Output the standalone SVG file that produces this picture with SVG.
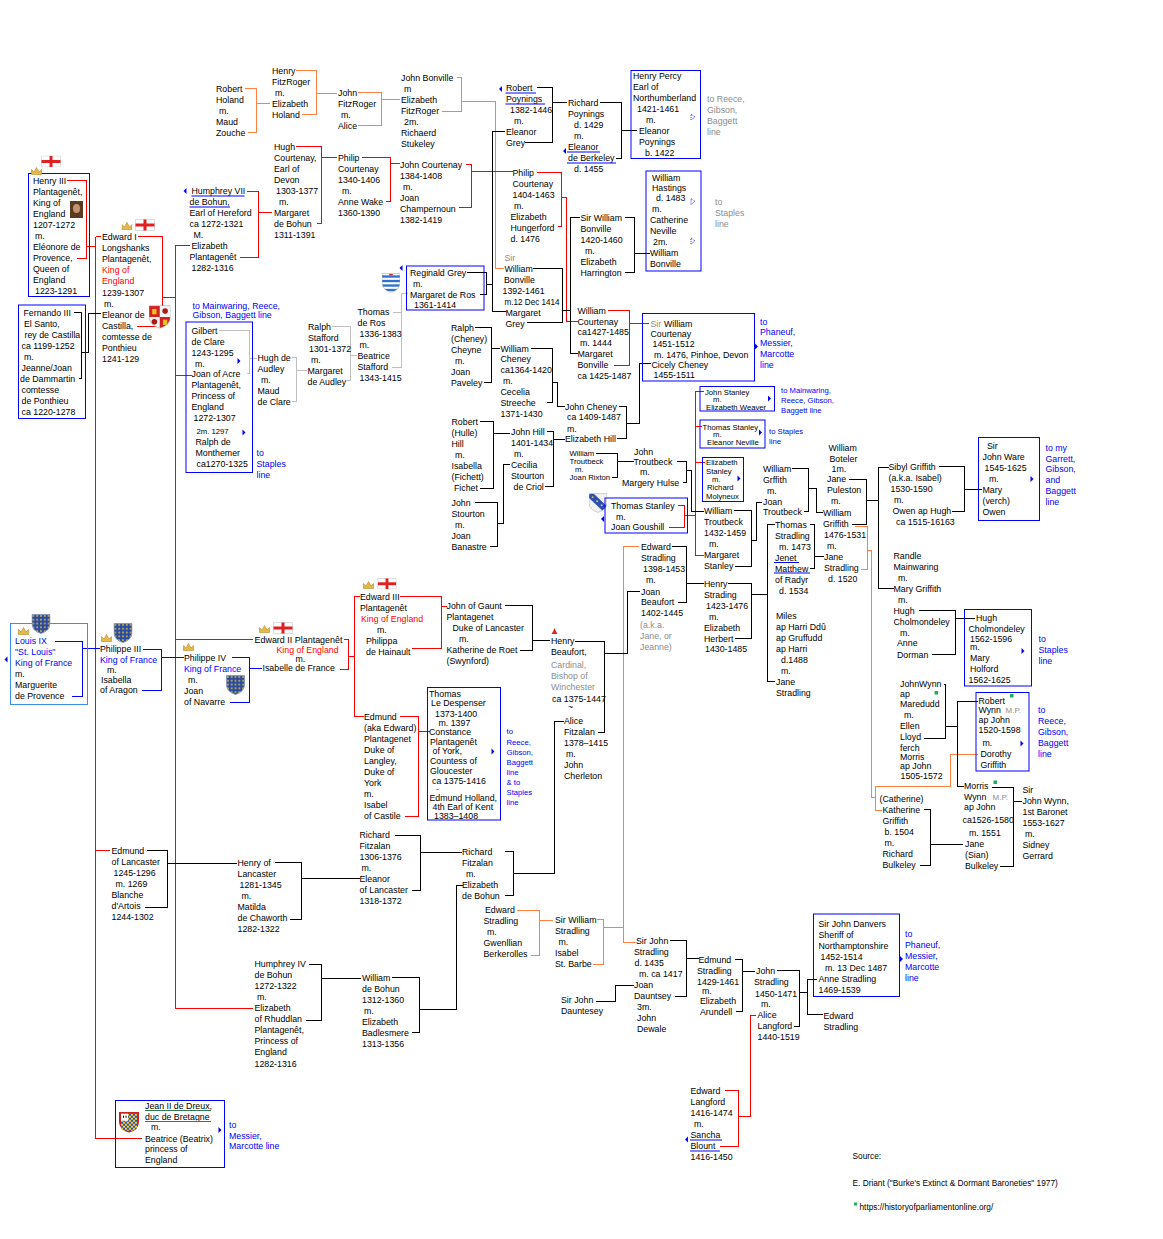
<svg xmlns="http://www.w3.org/2000/svg" width="1163" height="1239" viewBox="0 0 1163 1239">
<style>
text{font-family:"Liberation Sans",Arial,sans-serif;font-size:8.8px;fill:#000}
.red{fill:#ff0000}
.blu{fill:#0000ff}
.gry{fill:#8c8c8c}
.sm{font-size:7.7px}
.tl{font-size:5px}
.mp{font-size:8px;fill:#8c8c8c}
.ft{font-size:8.3px}
.lr{fill:none;stroke:#ff0000}
.lb{fill:none;stroke:#000}
.lo{fill:none;stroke:#ff8040}
.lu{fill:none;stroke:#0000ff}
.lg{fill:none;stroke:#c0c0c0}
.box{fill:none;stroke:#0000ff}
.lbox{fill:none;stroke:#3b8eea}
.ul{stroke:#0000ff;fill:none}
.ulg{stroke:#2e7d4f;fill:none}
.arr{fill:#0000ff}
.dm{fill:none;stroke:#0000ff;stroke-width:0.8;stroke-dasharray:1 1}
.gsq{fill:#20b050}
</style>
<defs>
<clipPath id="shc"><path d="M0,0H20V10Q20,18 10,21Q0,18 0,10Z"/></clipPath>
<pattern id="fdots" width="4" height="4" patternUnits="userSpaceOnUse"><circle cx="2" cy="2" r="0.9" fill="#e8c840"/></pattern>
<pattern id="chk" width="4" height="4" patternUnits="userSpaceOnUse"><rect width="4" height="4" fill="#f0d030"/><rect width="2" height="2" fill="#3050b0"/><rect x="2" y="2" width="2" height="2" fill="#3050b0"/></pattern>
<symbol id="crown" viewBox="0 0 11 8"><path d="M0.5,7.5V2.5L3,5L5.5,0.5L8,5L10.5,2.5V7.5Z" fill="#e6b84a" stroke="#b8892a" stroke-width="0.6"/></symbol>
<symbol id="flag" viewBox="0 0 20 12"><rect x="0.5" y="0.5" width="19" height="11" fill="#fff" stroke="#dddddd"/><rect x="8.5" y="0.5" width="3" height="11" fill="#e02020"/><rect x="0.5" y="4.5" width="19" height="3" fill="#e02020"/></symbol>
<symbol id="fr" viewBox="0 0 20 21"><path d="M0.5,0.5H19.5V10Q19.5,17.5 10,20.5Q0.5,17.5 0.5,10Z" fill="#2a4aa0" stroke="#8899bb"/><path d="M0.5,0.5H19.5V10Q19.5,17.5 10,20.5Q0.5,17.5 0.5,10Z" fill="url(#fdots)"/></symbol>
<symbol id="cl" viewBox="0 0 20 21"><g clip-path="url(#shc)"><rect width="20" height="21" fill="#f4f4f4"/><rect width="10" height="10.5" fill="#d42020"/><rect x="10" y="10.5" width="10" height="10.5" fill="#d42020"/><rect x="3" y="3" width="4" height="5" fill="#f0c020"/><rect x="13" y="13" width="4" height="5" fill="#f0c020"/><circle cx="15" cy="5" r="2.6" fill="#b01818"/><circle cx="5" cy="15" r="2.6" fill="#b01818"/></g><path d="M0,0H20V10Q20,18 10,21Q0,18 0,10Z" fill="none" stroke="#aaaaaa" stroke-width="0.6"/></symbol>
<symbol id="gr" viewBox="0 0 20 21"><g clip-path="url(#shc)"><rect width="20" height="21" fill="#ffffff"/><rect y="2" width="20" height="2.6" fill="#3070d0"/><rect y="7" width="20" height="2.6" fill="#3070d0"/><rect y="12" width="20" height="2.6" fill="#3070d0"/><rect y="17" width="20" height="2.6" fill="#3070d0"/><rect x="8" y="0" width="4" height="2" fill="#d02020"/></g><path d="M0,0H20V10Q20,18 10,21Q0,18 0,10Z" fill="none" stroke="#aaaaaa" stroke-width="0.6"/></symbol>
<symbol id="st" viewBox="0 0 20 21"><g clip-path="url(#shc)"><rect width="20" height="21" fill="#f2f2f2"/><path d="M-2,3L3,-2L22,16L17,21Z" fill="#3050b0"/><circle cx="4" cy="4" r="1" fill="#f0d030"/><circle cx="9" cy="8.5" r="1" fill="#f0d030"/><circle cx="14" cy="13" r="1" fill="#f0d030"/></g><path d="M0,0H20V10Q20,18 10,21Q0,18 0,10Z" fill="none" stroke="#aaaaaa" stroke-width="0.6"/></symbol>
<symbol id="dr" viewBox="0 0 20 21"><g clip-path="url(#shc)"><rect width="20" height="21" fill="#cc2020"/><rect x="2" y="2" width="16" height="17" fill="url(#chk)"/><rect x="2" y="2" width="7" height="7" fill="#ffffff"/><rect x="4" y="4" width="1" height="2" fill="#000"/><rect x="6.5" y="4" width="1" height="2" fill="#000"/></g></symbol>
<path id="ra" d="M0,-3L3,0L0,3Z"/>
<path id="la" d="M3,-3L0,0L3,3Z"/>
<path id="dmk" d="M0,-3L4,0L0,3Z"/>
</defs>
<rect width="1163" height="1239" fill="#ffffff"/>

<g id="connectors" shape-rendering="crispEdges">
<path class="lo" d="M245,88.5H256.5V132.5H248M256.5,103.5H270"/>
<path class="lo" d="M295.5,70.5H316V114.5H301.5M316,93.5H336.5"/>
<path class="lo" d="M358,92.5H381V125.5H358M381,99.5H400"/>
<path class="lo" d="M457,77.5H461.5V111.5H441.5M461.5,101.5H495V268.5H504"/>
<path class="lo" d="M517,910H539.5V955H531M539.5,920.5H553"/>
<path class="lo" d="M597,919.5H603.5V964H593M603.5,927.5H623.5"/>
<path class="lo" d="M638.5,546.5H623.5V942.5H635.5"/>
<path class="lo" d="M855,526H867.5V569.5H861M867.5,550H871.5V797.5H875.5M881.5,810H875.5V786.5H950V754.5H978"/>
<path class="lr" d="M66.5,180.5H86.5V258.5H77M86.5,246.5H95.5"/>
<path class="lr" d="M95.5,236.5V1138.5H141.5M95.5,236.5H101M95.5,850H110"/>
<path class="lr" d="M137.5,236.5H162.5V326H136.5M162.5,297.5H175M175,245.5V1008.5H253M175,245.5H190M175,375.5H191.5M175,639.5H253"/>
<path class="lr" d="M246.5,191H258.5V257H240M258.5,212.5H271.5"/>
<path class="lr" d="M295.5,146H321V223H316.5M321,157.5H336.5"/>
<path class="lr" d="M361.5,157H390V201H385.5M390,163.5H400"/>
<path class="lr" d="M466,164.5H471.5V207.5H459M471.5,171H512.5"/>
<path class="lr" d="M537,172H561.5V226.5H558M561.5,197.5H566.5V321H577.5"/>
<path class="lr" d="M607.5,310H629.5V365H613.5M629.5,323.5H648.5"/>
<path class="lr" d="M344,639.5H348.5V669.5H339.5M348.5,656.5H354M354,596V716M354,596H360M354,716H363.5"/>
<path class="lr" d="M399.5,596H441.5V648.5H411.5M441.5,606H446.5"/>
<path class="lr" d="M399.5,716H418.5V816H405M418.5,731.5H430"/>
<path class="lr" d="M677.5,505H684V527.5H669M684,515H695M695,391V555M695,391H704M695,426H702M695,462.5H705M695,555H704"/>
<path class="lr" d="M724.5,1090.5H738.5V1146H720M738.5,1116H750V1015H755.5"/>
<path class="lu" d="M55,641H82.5V696H71.5M82.5,648.5H99.5"/>
<path class="lu" d="M142.5,649H161.5V690H141.5M161.5,657.5H183.5"/>
<path class="lu" d="M231.5,657.5H249.5V702.5H230M249.5,668.5H261.5"/>
<path class="lg" d="M219,330H249.5V373.5H246.5M249.5,358.5H257"/>
<path class="lg" d="M292,357.5H296.5V401H292M296.5,370H306.5"/>
<path class="lg" d="M331.5,326.5H350V380.5H346.5M350,355.5H356.5"/>
<path class="lg" d="M393,312H401V367H392M401,293.5V312M401,293.5H408"/>
<path class="lb" d="M73.5,312.5H81.5V378H79M81.5,352.5H88.5V313.5H101"/>
<path class="lb" d="M466.5,272H486V294H480M486,284.5H492.5M505,131H492.5V311.5H505.5"/>
<path class="lb" d="M536.5,87.5H552.5V142H525M552.5,102.5H566.5"/>
<path class="lb" d="M600,102.5H621.5V158.5H615.5M621.5,130.5H636.5"/>
<path class="lb" d="M624.5,217.5H634.5V272.5H625M634.5,253.5H650"/>
<path class="lb" d="M532.5,268.5H562.5V322.5H526.5M562.5,310H570M580,217.5H570V353.5H578"/>
<path class="lb" d="M475,327.5H491.5V382.5H484M491.5,348.5H500"/>
<path class="lb" d="M530.5,348H552.5V402.5H546.5M552.5,382.5H557.5V406H564.5"/>
<path class="lb" d="M618.5,406H626.5V438.5H616.5M626.5,423.5H639.5V363.5H650.5"/>
<path class="lb" d="M480,421.5H493.5V488.5H479.5M493.5,433.5H510"/>
<path class="lb" d="M546.5,431.5H553.5V486.5H544.5M553.5,439H565"/>
<path class="lb" d="M474.5,502.5H497.5V546.5H490M497.5,523.5H503.5V464H510"/>
<path class="lb" d="M595.5,453.5H617.5V477.5H611.5M617.5,461H633.5"/>
<path class="lb" d="M676.5,461.5H686V482.5H682.5M686,470H691V511H703.5"/>
<path class="lb" d="M733.5,510.5H751.5V566H735M751.5,540H756.5V502.5H761.5"/>
<path class="lb" d="M791.5,468H808.5V511.5H804M808.5,488.5H816V512.5H822.5"/>
<path class="lb" d="M848.5,479H866.5V524H851.5M866.5,500.5H878.5M888.5,467.5H878.5V588.5H893.5"/>
<path class="lb" d="M939,466.5H964V511H951.5M964,489H981.5"/>
<path class="lb" d="M918.5,610.5H955.5V654.5H931.5M955.5,618.5H975"/>
<path class="lb" d="M809.5,524.5H814.5V568.5H810M814.5,556.5H823.5"/>
<path class="lb" d="M727.5,583.5H751.5V638.5H734.5M751.5,594.5H767.5M775,524.5H767.5V681.5H775"/>
<path class="lb" d="M671.5,546.5H686.5V602.5H677.5M686.5,583.5H703.5"/>
<path class="lb" d="M575,641H604.5V732.5H597.5M604.5,653.5H627.5V591.5H640"/>
<path class="lb" d="M505,605.5H532.5V650H520M532.5,640.5H550"/>
<path class="lb" d="M505,851.5H513.5V895.5H505M513.5,873H554.5V721H564"/>
<path class="lb" d="M146.5,850.5H167.5V907.5H145M167.5,863.5H236.5"/>
<path class="lb" d="M275,862.5H301V919H290M301,878.5H359.5"/>
<path class="lb" d="M394.5,835H420V890.5H411.5M420,852.5H461.5"/>
<path class="lb" d="M308.5,964H321V1020H306M321,978.5H361"/>
<path class="lb" d="M391.5,977.5H419.5V1032.5H411.5M419.5,1009.5H456.5V885H462.5"/>
<path class="lb" d="M670,940.5H686.5V996.5H675M686.5,958.5H698.5"/>
<path class="lb" d="M596,1001H615.5V985.5H633.5"/>
<path class="lb" d="M735,959.5H742.5V1011.5H735.5M742.5,971.5H755"/>
<path class="lb" d="M776.5,970.5H799.5V1026H793.5M799.5,992.5H807.5M816.5,979.5H807.5V1014.5H822.5"/>
<path class="lb" d="M943.5,684H945.5V738.5H923.5M945.5,726.5H957.5M977.5,701.5H957.5V786.5H963.5"/>
<path class="lb" d="M991.5,787.5H1013.5V866.5H1000M1013.5,801H1021.5"/>
<path class="lb" d="M923.5,809.5H930V865H920M930,844H962.5"/>
</g>

<g id="n-robert-holand"><text><tspan x="216" y="92">Robert</tspan><tspan x="216" y="103">Holand</tspan><tspan x="219" y="114">m.</tspan><tspan x="216" y="125">Maud</tspan><tspan x="216" y="136">Zouche</tspan></text></g>
<g id="n-henry-fitzroger"><text><tspan x="272" y="74">Henry</tspan><tspan x="272" y="85">FitzRoger</tspan><tspan x="275" y="96">m.</tspan><tspan x="272" y="107">Elizabeth</tspan><tspan x="272" y="118">Holand</tspan></text></g>
<g id="n-john-fitzroger"><text><tspan x="338" y="96">John</tspan><tspan x="338" y="107">FitzRoger</tspan><tspan x="341" y="118">m.</tspan><tspan x="338" y="129">Alice</tspan></text></g>
<g id="n-john-bonville"><text><tspan x="401" y="81">John Bonville</tspan><tspan x="404" y="92">m</tspan><tspan x="401" y="103">Elizabeth</tspan><tspan x="401" y="114">FitzRoger</tspan><tspan x="404" y="125">2m.</tspan><tspan x="401" y="136">Richaerd</tspan><tspan x="401" y="147">Stukeley</tspan></text></g>
<g id="n-robert-poynings"><use href="#la" x="499" y="89" class="arr"/><text><tspan x="506" y="91">Robert</tspan><tspan x="506" y="102">Poynings</tspan><tspan x="510" y="113">1382-1446</tspan><tspan x="514" y="124">m.</tspan><tspan x="506" y="135">Eleanor</tspan><tspan x="506" y="146">Grey</tspan></text><path class="ul" d="M505.5,93H536M505.5,104H545"/></g>
<g id="n-richard-poynings"><use href="#la" x="563" y="151" class="arr"/><text><tspan x="568" y="106">Richard</tspan><tspan x="568" y="117">Poynings</tspan><tspan x="574" y="128">d. 1429</tspan><tspan x="574" y="139">m.</tspan><tspan x="568" y="150">Eleanor</tspan><tspan x="568" y="161">de Berkeley</tspan><tspan x="574" y="172">d. 1455</tspan></text><path class="ul" d="M567,152H600M567,163H616"/></g>
<g id="n-henry-percy"><rect class="box" x="631" y="70.5" width="69.5" height="88"/><text><tspan x="633" y="79">Henry Percy</tspan><tspan x="633" y="90">Earl of</tspan><tspan x="633" y="101">Northumberland</tspan><tspan x="637" y="112">1421-1461</tspan><tspan x="646" y="123">m.</tspan><tspan x="639" y="134">Eleanor</tspan><tspan x="639" y="145">Poynings</tspan><tspan x="645" y="156">b. 1422</tspan></text><use href="#dmk" x="691" y="117" class="dm"/><text class="gry"><tspan x="707" y="102">to Reece,</tspan><tspan x="707" y="113">Gibson,</tspan><tspan x="707" y="124">Baggett</tspan><tspan x="707" y="135">line</tspan></text></g>
<g id="n-hastings"><rect class="box" x="646" y="171" width="55" height="100"/><text><tspan x="652" y="181">William</tspan><tspan x="652" y="191">Hastings</tspan><tspan x="656" y="201">d. 1483</tspan><tspan x="652" y="212">m.</tspan><tspan x="650" y="223">Catherine</tspan><tspan x="650" y="234">Neville</tspan><tspan x="653" y="245">2m.</tspan><tspan x="650" y="256">William</tspan><tspan x="650" y="266.5">Bonville</tspan></text><use href="#dmk" x="691" y="201.5" class="dm"/><use href="#dmk" x="691" y="241" class="dm"/><text class="gry"><tspan x="715" y="205">to</tspan><tspan x="715" y="216">Staples</tspan><tspan x="715" y="227">line</tspan></text></g>
<g id="n-hugh-courtenay"><text><tspan x="274" y="149.5">Hugh</tspan><tspan x="274" y="160.5">Courtenay,</tspan><tspan x="274" y="171.5">Earl of</tspan><tspan x="274" y="182.5">Devon</tspan><tspan x="276" y="193.5">1303-1377</tspan><tspan x="279" y="204.5">m.</tspan><tspan x="274" y="215.5">Margaret</tspan><tspan x="274" y="226.5">de Bohun</tspan><tspan x="274" y="237.5">1311-1391</tspan></text></g>
<g id="n-philip-courtenay-1340"><text><tspan x="338" y="160.5">Philip</tspan><tspan x="338" y="171.5">Courtenay</tspan><tspan x="338" y="182.5">1340-1406</tspan><tspan x="342" y="193.5">m.</tspan><tspan x="338" y="204.5">Anne Wake</tspan><tspan x="338" y="215.5">1360-1390</tspan></text></g>
<g id="n-john-courtenay"><text><tspan x="400" y="167.5">John Courtenay</tspan><tspan x="400" y="178.5">1384-1408</tspan><tspan x="403" y="189.5">m.</tspan><tspan x="400" y="200.5">Joan</tspan><tspan x="400" y="211.5">Champernoun</tspan><tspan x="400" y="222.5">1382-1419</tspan></text></g>
<g id="n-philip-courtenay-1404"><text><tspan x="512.5" y="175.5">Philip</tspan><tspan x="512.5" y="186.5">Courtenay</tspan><tspan x="512.5" y="197.5">1404-1463</tspan><tspan x="514" y="208.5">m.</tspan><tspan x="510.5" y="219.5">Elizabeth</tspan><tspan x="510.5" y="230.5">Hungerford</tspan><tspan x="510.5" y="241.5">d. 1476</tspan></text></g>
<g id="n-humphrey-vii"><use href="#la" x="183.5" y="191" class="arr"/><text><tspan x="191.5" y="194">Humphrey VII</tspan><tspan x="189.5" y="205">de Bohun,</tspan><tspan x="189.5" y="216">Earl of Hereford</tspan><tspan x="189.5" y="227">ca 1272-1321</tspan><tspan x="193.5" y="238">M.</tspan><tspan x="191.5" y="249">Elizabeth</tspan><tspan x="189.5" y="260">Plantagenêt</tspan><tspan x="191.5" y="271">1282-1316</tspan></text><path class="ul" d="M191.5,196H244.5M189.5,207H230"/></g>
<g id="n-henry-iii"><rect class="box" x="28.5" y="173.5" width="61" height="123"/><use href="#crown" x="31" y="167" width="11" height="8"/><use href="#flag" x="41" y="155.5" width="20" height="12"/><rect x="70" y="201" width="13" height="17" fill="#5a3a20"/><ellipse cx="76.5" cy="208.5" rx="3.5" ry="4.5" fill="#c29372"/><text><tspan x="33" y="184">Henry III</tspan><tspan x="33" y="195">Plantagenêt,</tspan><tspan x="33" y="206">King of</tspan><tspan x="33" y="217">England</tspan><tspan x="33" y="228">1207-1272</tspan><tspan x="35" y="239">m.</tspan><tspan x="33" y="250">Eléonore de</tspan><tspan x="33" y="261">Provence,</tspan><tspan x="33" y="272">Queen of</tspan><tspan x="33" y="283">England</tspan><tspan x="35" y="294">1223-1291</tspan></text></g>
<g id="n-edward-i"><use href="#crown" x="121.5" y="222" width="11" height="8"/><use href="#flag" x="135" y="219" width="20" height="12"/><use href="#cl" x="149" y="305" width="21.5" height="24"/><text><tspan x="102" y="240">Edward I</tspan><tspan x="102" y="251">Longshanks</tspan><tspan x="102" y="262">Plantagenêt,</tspan><tspan x="102" y="273" class="red">King of</tspan><tspan x="102" y="284" class="red">England</tspan><tspan x="102" y="295.5">1239-1307</tspan><tspan x="104" y="306.5">m.</tspan><tspan x="102" y="318">Eleanor de</tspan><tspan x="102" y="329">Castilla,</tspan><tspan x="102" y="340">comtesse de</tspan><tspan x="102" y="351">Ponthieu</tspan><tspan x="102" y="362">1241-129</tspan></text></g>
<g id="n-fernando-iii"><rect class="box" x="18.5" y="305" width="67" height="113.5"/><text><tspan x="23.5" y="316">Fernando III</tspan><tspan x="24" y="327">El Santo,</tspan><tspan x="24.5" y="338">rey de Castilla</tspan><tspan x="21.5" y="349">ca 1199-1252</tspan><tspan x="24" y="360">m.</tspan><tspan x="21.5" y="371">Jeanne/Joan</tspan><tspan x="20" y="382">de Dammartin</tspan><tspan x="21.5" y="393">comtesse</tspan><tspan x="21.5" y="404">de Ponthieu</tspan><tspan x="21.5" y="415">ca 1220-1278</tspan></text></g>
<g id="n-gilbert-de-clare"><text class="blu"><tspan x="192.5" y="309">to Mainwaring, Reece,</tspan><tspan x="192.5" y="318">Gibson, Baggett line</tspan></text><rect class="box" x="186" y="322" width="66.5" height="150.5"/><text><tspan x="191.5" y="333.5">Gilbert</tspan><tspan x="191.5" y="344.5">de Clare</tspan><tspan x="191.5" y="355.5">1243-1295</tspan><tspan x="195" y="366.5">m.</tspan><tspan x="191.5" y="377">Joan of Acre</tspan><tspan x="191.5" y="388">Plantagenêt,</tspan><tspan x="191.5" y="399">Princess of</tspan><tspan x="191.5" y="410">England</tspan><tspan x="193.5" y="421">1272-1307</tspan><tspan x="196.5" y="433.5" class="sm">2m. 1297</tspan><tspan x="195.5" y="445">Ralph de</tspan><tspan x="195.5" y="456">Monthemer</tspan><tspan x="196.5" y="467">ca1270-1325</tspan></text><use href="#ra" x="237.5" y="361" class="arr"/><use href="#ra" x="242.5" y="432.5" class="arr"/><text class="blu"><tspan x="256.5" y="456">to</tspan><tspan x="256.5" y="467">Staples</tspan><tspan x="256.5" y="478">line</tspan></text></g>
<g id="n-hugh-de-audley"><text><tspan x="257.5" y="361">Hugh de</tspan><tspan x="257.5" y="372">Audley</tspan><tspan x="261" y="383">m.</tspan><tspan x="257.5" y="394">Maud</tspan><tspan x="257.5" y="405">de Clare</tspan></text></g>
<g id="n-ralph-stafford"><text><tspan x="308" y="330">Ralph</tspan><tspan x="308" y="341">Stafford</tspan><tspan x="309" y="352">1301-1372</tspan><tspan x="311" y="363">m.</tspan><tspan x="307.5" y="374">Margaret</tspan><tspan x="307.5" y="385">de Audley</tspan></text></g>
<g id="n-thomas-de-ros"><text><tspan x="357.5" y="315">Thomas</tspan><tspan x="357.5" y="326">de Ros</tspan><tspan x="359.5" y="337">1336-1383</tspan><tspan x="359.5" y="348">m.</tspan><tspan x="357.5" y="359">Beatrice</tspan><tspan x="357.5" y="370">Stafford</tspan><tspan x="359.5" y="380.5">1343-1415</tspan></text></g>
<g id="n-reginald-grey"><use href="#gr" x="382" y="272" width="18" height="22"/><use href="#la" x="399.5" y="268" class="arr"/><rect class="box" x="406.5" y="266" width="77.5" height="44"/><text><tspan x="410" y="275.5">Reginald Grey</tspan><tspan x="413" y="286.5">m.</tspan><tspan x="410" y="297.5">Margaret de Ros</tspan><tspan x="414" y="308">1361-1414</tspan></text></g>
<g id="n-william-bonville-1392"><text><tspan x="504.5" y="261" class="gry">Sir</tspan><tspan x="504.5" y="271.5">William</tspan><tspan x="504" y="282.5">Bonville</tspan><tspan x="502.5" y="293.5">1392-1461</tspan><tspan x="504.5" y="304.5" textLength="55" lengthAdjust="spacingAndGlyphs">m.12 Dec 1414</tspan><tspan x="505.5" y="315.5">Margaret</tspan><tspan x="505.5" y="326.5">Grey</tspan></text></g>
<g id="n-william-bonville-1420"><text><tspan x="580.5" y="221">Sir William</tspan><tspan x="580.5" y="232">Bonville</tspan><tspan x="580.5" y="243">1420-1460</tspan><tspan x="585" y="254">m.</tspan><tspan x="580.5" y="265">Elizabeth</tspan><tspan x="580.5" y="276">Harrington</tspan></text></g>
<g id="n-william-courtenay-1427"><text><tspan x="577.5" y="313.5">William</tspan><tspan x="577.5" y="324.5">Courtenay</tspan><tspan x="577.5" y="335">ca1427-1485</tspan><tspan x="580" y="346">m. 1444</tspan><tspan x="577.5" y="357">Margaret</tspan><tspan x="577.5" y="368">Bonville</tspan><tspan x="577.5" y="378.5">ca 1425-1487</tspan></text></g>
<g id="n-william-courtenay-1451"><rect class="box" x="642.5" y="313.5" width="112" height="67.5"/><text><tspan x="650.5" y="326.5" class="gry">Sir</tspan><tspan x="664" y="326.5">William</tspan><tspan x="650.5" y="336.5">Courtenay</tspan><tspan x="652.5" y="347">1451-1512</tspan><tspan x="654" y="357.5">m. 1476, Pinhoe, Devon</tspan><tspan x="651.5" y="367.5">Cicely Cheney</tspan><tspan x="653.5" y="378">1455-1511</tspan></text><use href="#ra" x="755" y="346.5" class="arr"/><text class="blu"><tspan x="760" y="324.5">to</tspan><tspan x="760" y="335">Phaneuf,</tspan><tspan x="760" y="345.5">Messier,</tspan><tspan x="760" y="356.5">Marcotte</tspan><tspan x="760" y="367.5">line</tspan></text></g>
<g id="n-ralph-cheyne"><text><tspan x="451" y="331">Ralph</tspan><tspan x="451" y="342">(Cheney)</tspan><tspan x="451" y="353">Cheyne</tspan><tspan x="455" y="364">m.</tspan><tspan x="451" y="375">Joan</tspan><tspan x="451" y="386">Paveley</tspan></text></g>
<g id="n-william-cheney"><text><tspan x="500.5" y="351.5">William</tspan><tspan x="500.5" y="362">Cheney</tspan><tspan x="500.5" y="373">ca1364-1420</tspan><tspan x="503" y="384">m.</tspan><tspan x="500.5" y="395">Cecelia</tspan><tspan x="500.5" y="405.5">Streeche</tspan><tspan x="500.5" y="417">1371-1430</tspan></text></g>
<g id="n-john-cheney"><text><tspan x="565" y="409.5">John Cheney</tspan><tspan x="567" y="420">ca 1409-1487</tspan><tspan x="567" y="431.5">m.</tspan><tspan x="565" y="442">Elizabeth Hill</tspan></text></g>
<g id="n-robert-hill"><text><tspan x="451.5" y="425">Robert</tspan><tspan x="451.5" y="436">(Hulle)</tspan><tspan x="451.5" y="447">Hill</tspan><tspan x="455" y="458">m.</tspan><tspan x="451.5" y="469">Isabella</tspan><tspan x="451.5" y="480">(Fichett)</tspan><tspan x="454" y="491">Fichet</tspan></text></g>
<g id="n-john-hill"><text><tspan x="511" y="435">John Hill</tspan><tspan x="511" y="446">1401-1434</tspan><tspan x="514" y="457">m.</tspan><tspan x="511" y="468">Cecilia</tspan><tspan x="511" y="479">Stourton</tspan><tspan x="513.5" y="490">de Criol</tspan></text></g>
<g id="n-john-stourton"><text><tspan x="451.5" y="506">John</tspan><tspan x="451.5" y="517">Stourton</tspan><tspan x="455" y="528">m.</tspan><tspan x="451.5" y="539">Joan</tspan><tspan x="451.5" y="550">Banastre</tspan></text></g>
<g id="n-william-troutbeck-rixton"><text class="sm"><tspan x="569.5" y="455.5">William</tspan><tspan x="569.5" y="464">Troutbeck</tspan><tspan x="575" y="471.5">m.</tspan><tspan x="569.5" y="479.5">Joan Rixton</tspan></text></g>
<g id="n-john-troutbeck"><text><tspan x="634" y="454.5">John</tspan><tspan x="633.5" y="464.5">Troutbeck</tspan><tspan x="640" y="475">m.</tspan><tspan x="622" y="485.5">Margery Hulse</tspan></text></g>
<g id="n-thomas-stanley-goushill"><use href="#st" x="589" y="493" width="18" height="20"/><use href="#la" x="601" y="519" class="arr"/><rect class="box" x="605" y="498" width="82.5" height="35"/><text><tspan x="611" y="508.5">Thomas Stanley</tspan><tspan x="616" y="519.5">m.</tspan><tspan x="611" y="530">Joan Goushill</tspan></text></g>
<g id="n-john-stanley"><rect class="box" x="700" y="386.5" width="74.5" height="24.5"/><text class="sm"><tspan x="705" y="394.5">John Stanley</tspan><tspan x="713" y="401.5">m.</tspan><tspan x="706" y="409.5">Elizabeth Weaver</tspan></text><use href="#ra" x="768" y="398.5" class="arr"/><text class="sm blu"><tspan x="781" y="392.5">to Mainwaring,</tspan><tspan x="781" y="402.5">Reece, Gibson,</tspan><tspan x="781" y="412.5">Baggett line</tspan></text></g>
<g id="n-thomas-stanley-neville"><rect class="box" x="700" y="420" width="65" height="28"/><text class="sm"><tspan x="702.5" y="429.5">Thomas Stanley</tspan><tspan x="713" y="436.5">m.</tspan><tspan x="707" y="445">Eleanor Neville</tspan></text><use href="#ra" x="759" y="432.5" class="arr"/><text class="sm blu"><tspan x="769" y="433.5">to Staples</tspan><tspan x="769" y="443.5">line</tspan></text></g>
<g id="n-elizabeth-stanley"><rect class="box" x="702.5" y="457.5" width="41" height="44"/><text class="sm"><tspan x="706" y="465">Elizabeth</tspan><tspan x="706" y="474">Stanley</tspan><tspan x="712" y="481.5">m.</tspan><tspan x="707" y="490">Richard</tspan><tspan x="706" y="499">Molyneux</tspan></text><use href="#ra" x="737.5" y="478.5" class="arr"/></g>
<g id="n-william-troutbeck-1432"><text><tspan x="704" y="514">William</tspan><tspan x="704" y="525">Troutbeck</tspan><tspan x="704" y="536">1432-1459</tspan><tspan x="709" y="547">m.</tspan><tspan x="704" y="558">Margaret</tspan><tspan x="704" y="569">Stanley</tspan></text></g>
<g id="n-william-griffith-sr"><text><tspan x="763" y="471.5">William</tspan><tspan x="763" y="482.5">Grffith</tspan><tspan x="767" y="493.5">m.</tspan><tspan x="763" y="504.5">Joan</tspan><tspan x="763" y="515">Troutbeck</tspan></text></g>
<g id="n-william-boteler"><text><tspan x="828.5" y="451">William</tspan><tspan x="829.5" y="462">Boteler</tspan><tspan x="831.5" y="472">1m.</tspan><tspan x="827" y="482">Jane</tspan><tspan x="827" y="493">Puleston</tspan><tspan x="831" y="504">m.</tspan><tspan x="823" y="516">William</tspan><tspan x="823" y="527">Griffith</tspan><tspan x="824" y="538">1476-1531</tspan><tspan x="827" y="549">m.</tspan><tspan x="824" y="560">Jane</tspan><tspan x="824" y="571">Stradling</tspan><tspan x="828" y="581.5">d. 1520</tspan></text></g>
<g id="n-sibyl-griffith"><text><tspan x="888.5" y="470">Sibyl Griffith</tspan><tspan x="888.5" y="481">(a.k.a. Isabel)</tspan><tspan x="890.5" y="492">1530-1590</tspan><tspan x="894" y="503">m.</tspan><tspan x="892.5" y="514">Owen ap Hugh</tspan><tspan x="896" y="525">ca 1515-16163</tspan></text></g>
<g id="n-john-ware"><rect class="box" x="978.5" y="437.5" width="61" height="83"/><text><tspan x="987" y="449">Sir</tspan><tspan x="982.5" y="460">John Ware</tspan><tspan x="984.5" y="471">1545-1625</tspan><tspan x="989" y="482">m.</tspan><tspan x="982.5" y="493">Mary</tspan><tspan x="982.5" y="504">(verch)</tspan><tspan x="982.5" y="515">Owen</tspan></text><use href="#ra" x="1030.5" y="479" class="arr"/><text class="blu"><tspan x="1045.5" y="450.5">to my</tspan><tspan x="1045.5" y="461.5">Garrett,</tspan><tspan x="1045.5" y="472">Gibson,</tspan><tspan x="1045.5" y="483">and</tspan><tspan x="1045.5" y="494">Baggett</tspan><tspan x="1045.5" y="505">line</tspan></text></g>
<g id="n-randle-mainwaring"><text><tspan x="893.5" y="559">Randle</tspan><tspan x="893.5" y="570">Mainwaring</tspan><tspan x="898" y="581">m.</tspan><tspan x="893.5" y="592">Mary Griffith</tspan><tspan x="898" y="603">m.</tspan><tspan x="893.5" y="614">Hugh</tspan><tspan x="893.5" y="625">Cholmondeley</tspan><tspan x="900" y="635.5">m.</tspan><tspan x="897" y="646">Anne</tspan><tspan x="897" y="657.5">Dorman</tspan></text></g>
<g id="n-hugh-cholmondeley"><rect class="box" x="964.5" y="609.5" width="67" height="76.5"/><text><tspan x="976" y="621">Hugh</tspan><tspan x="968.5" y="632">Cholmondeley</tspan><tspan x="970" y="642">1562-1596</tspan><tspan x="970" y="650">m.</tspan><tspan x="970" y="661">Mary</tspan><tspan x="970" y="671.5">Holford</tspan><tspan x="968.5" y="682.5">1562-1625</tspan></text><use href="#ra" x="1021.5" y="651" class="arr"/><text class="blu"><tspan x="1038.5" y="642">to</tspan><tspan x="1038.5" y="653">Staples</tspan><tspan x="1038.5" y="664">line</tspan></text></g>
<g id="n-thomas-stradling"><text><tspan x="775" y="527.5">Thomas</tspan><tspan x="775" y="538.5">Stradling</tspan><tspan x="779" y="549.5">m. 1473</tspan><tspan x="775" y="560.5">Jenet</tspan><tspan x="775" y="571.5">Matthew</tspan><tspan x="775" y="582.5">of Radyr</tspan><tspan x="779" y="593.5">d. 1534</tspan></text><path class="ul" d="M774,562.5H799M774,573H810"/></g>
<g id="n-miles-ap-harri"><text><tspan x="776" y="619">Miles</tspan><tspan x="776" y="630">ap Harri Ddû</tspan><tspan x="776" y="641">ap Gruffudd</tspan><tspan x="776" y="652">ap Harri</tspan><tspan x="781" y="663">d.1488</tspan><tspan x="781" y="674">m.</tspan><tspan x="776" y="685">Jane</tspan><tspan x="776" y="696">Stradling</tspan></text></g>
<g id="n-henry-strading"><text><tspan x="704" y="586.5">Henry</tspan><tspan x="704" y="597.5">Strading</tspan><tspan x="706" y="608.5">1423-1476</tspan><tspan x="709" y="620">m.</tspan><tspan x="704" y="630.5">Elizabeth</tspan><tspan x="704" y="641.5">Herbert</tspan><tspan x="705" y="652">1430-1485</tspan></text></g>
<g id="n-edward-stradling-1398"><text><tspan x="641" y="550">Edward</tspan><tspan x="641" y="561">Stradling</tspan><tspan x="643" y="572">1398-1453</tspan><tspan x="646" y="583">m.</tspan><tspan x="641" y="594.5">Joan</tspan><tspan x="641" y="605">Beaufort</tspan><tspan x="641" y="616">1402-1445</tspan><tspan x="640" y="628" class="gry">(a.k.a.</tspan><tspan x="640" y="639" class="gry">Jane, or</tspan><tspan x="640" y="650" class="gry">Jeanne)</tspan></text></g>
<g id="n-henry-beaufort"><path d="M551.5,634H557.5L556,631.5L554.5,628L553,631.5Z" fill="#e02020"/><text><tspan x="551" y="644">Henry</tspan><tspan x="551" y="655">Beaufort,</tspan><tspan x="551" y="667.5" class="gry">Cardinal,</tspan><tspan x="551" y="679" class="gry">Bishop of</tspan><tspan x="551" y="690" class="gry">Winchester</tspan><tspan x="552" y="701.5">ca 1375-1447</tspan><tspan x="568" y="710">~</tspan><tspan x="564" y="724">Alice</tspan><tspan x="564" y="735">Fitzalan</tspan><tspan x="564" y="746">1378–1415</tspan><tspan x="566" y="757">m.</tspan><tspan x="564" y="768">John</tspan><tspan x="564" y="779">Cherleton</tspan></text></g>
<g id="n-john-of-gaunt"><text><tspan x="446.5" y="609">John of Gaunt</tspan><tspan x="446.5" y="620">Plantagenet</tspan><tspan x="452.5" y="631">Duke of Lancaster</tspan><tspan x="459" y="642">m.</tspan><tspan x="446.5" y="653">Katherine de Roet</tspan><tspan x="446.5" y="664">(Swynford)</tspan></text></g>
<g id="n-edward-iii"><use href="#crown" x="363" y="581" width="11" height="8"/><use href="#flag" x="377" y="578" width="20" height="11.5"/><text><tspan x="360" y="599.5">Edward III</tspan><tspan x="360" y="610.5">Plantagenêt</tspan><tspan x="361" y="621.5" class="red">King of England</tspan><tspan x="377" y="632.5">m.</tspan><tspan x="366" y="643.5">Philippa</tspan><tspan x="366" y="654.5">de Hainault</tspan></text></g>
<g id="n-edmund-langley"><text><tspan x="364" y="719.5">Edmund</tspan><tspan x="364" y="731">(aka Edward)</tspan><tspan x="364" y="742">Plantagenet</tspan><tspan x="364" y="753">Duke of</tspan><tspan x="364" y="764">Langley,</tspan><tspan x="364" y="775">Duke of</tspan><tspan x="364" y="786">York</tspan><tspan x="364" y="797">m.</tspan><tspan x="364" y="808">Isabel</tspan><tspan x="364" y="819">of Castile</tspan></text></g>
<g id="n-thomas-le-despenser"><rect class="box" x="427.5" y="687.5" width="73" height="132.5"/><text><tspan x="429" y="697">Thomas</tspan><tspan x="431" y="706">Le Despenser</tspan><tspan x="435" y="717">1373-1400</tspan><tspan x="438.5" y="726">m. 1397</tspan><tspan x="429" y="735">Constance</tspan><tspan x="430" y="744.5">Plantagenêt</tspan><tspan x="432.5" y="754">of York,</tspan><tspan x="430" y="764">Countess of</tspan><tspan x="430" y="774">Gloucester</tspan><tspan x="432" y="784">ca 1375-1416</tspan><tspan x="436" y="791" class="tl">~</tspan><tspan x="429.5" y="800.5">Edmund Holland,</tspan><tspan x="432.5" y="809.5">4th Earl of Kent</tspan><tspan x="434" y="818.5">1383–1408</tspan></text><use href="#ra" x="491.5" y="751.5" class="arr"/><text class="sm blu"><tspan x="506.5" y="734">to</tspan><tspan x="506.5" y="744.5">Reece,</tspan><tspan x="506.5" y="754.5">Gibson,</tspan><tspan x="506.5" y="764.5">Baggett</tspan><tspan x="506.5" y="774.5">line</tspan><tspan x="506.5" y="784.5">&amp; to</tspan><tspan x="506.5" y="794.5">Staples</tspan><tspan x="506.5" y="804.5">line</tspan></text></g>
<g id="n-edward-ii"><use href="#crown" x="259" y="625" width="11" height="8"/><use href="#flag" x="273" y="622" width="20" height="12"/><text><tspan x="254.5" y="642.5" textLength="88" lengthAdjust="spacingAndGlyphs">Edward II Plantagenêt</tspan><tspan x="276.5" y="653" class="red">King of England</tspan><tspan x="295.5" y="661.5">m.</tspan><tspan x="262.5" y="671">Isabelle de France</tspan></text></g>
<g id="n-philippe-iv"><use href="#crown" x="183" y="643" width="11" height="8"/><use href="#fr" x="226" y="675" width="19" height="20"/><text><tspan x="184" y="661">Philippe IV</tspan><tspan x="184" y="672" class="blu">King of France</tspan><tspan x="188" y="683">m.</tspan><tspan x="184" y="694">Joan</tspan><tspan x="184" y="705">of Navarre</tspan></text></g>
<g id="n-philippe-iii"><use href="#crown" x="101" y="634" width="11" height="8"/><use href="#fr" x="113.5" y="623" width="19" height="20"/><text><tspan x="100" y="652">Philippe III</tspan><tspan x="100" y="662.5" class="blu">King of France</tspan><tspan x="107" y="673">m.</tspan><tspan x="101" y="682.5">Isabella</tspan><tspan x="100" y="693">of Aragon</tspan></text></g>
<g id="n-louis-ix"><rect class="lbox" x="10.5" y="623.5" width="77" height="81"/><use href="#fr" x="31.5" y="614" width="19" height="20"/><use href="#crown" x="18" y="627" width="11" height="8"/><use href="#la" x="4.5" y="659.5" class="arr"/><text><tspan x="15" y="644" class="blu">Louis IX</tspan><tspan x="15" y="655" class="blu">"St. Louis"</tspan><tspan x="15" y="666" class="blu">King of France</tspan><tspan x="15" y="677">m.</tspan><tspan x="15" y="688">Marguerite</tspan><tspan x="15" y="699">de Provence</tspan></text></g>
<g id="n-edmund-of-lancaster"><text><tspan x="111.5" y="854">Edmund</tspan><tspan x="111.5" y="865">of Lancaster</tspan><tspan x="113.5" y="876">1245-1296</tspan><tspan x="115.5" y="887">m. 1269</tspan><tspan x="111.5" y="898">Blanche</tspan><tspan x="111.5" y="909">d'Artois</tspan><tspan x="111.5" y="920">1244-1302</tspan></text></g>
<g id="n-henry-of-lancaster"><text><tspan x="237.5" y="866">Henry of</tspan><tspan x="237.5" y="877">Lancaster</tspan><tspan x="239.5" y="888">1281-1345</tspan><tspan x="241.5" y="899">m.</tspan><tspan x="237.5" y="910">Matilda</tspan><tspan x="237.5" y="921">de Chaworth</tspan><tspan x="237.5" y="932">1282-1322</tspan></text></g>
<g id="n-richard-fitzalan-1306"><text><tspan x="359.5" y="838">Richard</tspan><tspan x="359.5" y="849">Fitzalan</tspan><tspan x="359.5" y="860">1306-1376</tspan><tspan x="361.5" y="871">m.</tspan><tspan x="359.5" y="882">Eleanor</tspan><tspan x="359.5" y="893">of Lancaster</tspan><tspan x="359.5" y="904">1318-1372</tspan></text></g>
<g id="n-richard-fitzalan"><text><tspan x="462" y="855">Richard</tspan><tspan x="462" y="866">Fitzalan</tspan><tspan x="466" y="877">m.</tspan><tspan x="462" y="888">Elizabeth</tspan><tspan x="462" y="899">de Bohun</tspan></text></g>
<g id="n-humphrey-iv"><text><tspan x="254.5" y="967">Humphrey IV</tspan><tspan x="254.5" y="978">de Bohun</tspan><tspan x="254.5" y="989">1272-1322</tspan><tspan x="257" y="1000">m.</tspan><tspan x="254.5" y="1011">Elizabeth</tspan><tspan x="254.5" y="1022">of Rhuddlan</tspan><tspan x="254.5" y="1033">Plantagenêt,</tspan><tspan x="254.5" y="1044">Princess of</tspan><tspan x="254.5" y="1055">England</tspan><tspan x="254.5" y="1067">1282-1316</tspan></text></g>
<g id="n-william-de-bohun"><text><tspan x="362" y="981">William</tspan><tspan x="362" y="992">de Bohun</tspan><tspan x="362" y="1003">1312-1360</tspan><tspan x="364" y="1014">m.</tspan><tspan x="362" y="1025">Elizabeth</tspan><tspan x="362" y="1036">Badlesmere</tspan><tspan x="362" y="1047">1313-1356</tspan></text></g>
<g id="n-beatrice"><rect class="box" x="115.5" y="1100.5" width="109" height="67"/><use href="#dr" x="119" y="1111.5" width="20" height="21.5"/><text><tspan x="145" y="1108.5">Jean II de Dreux,</tspan><tspan x="145" y="1119.5">duc de Bretagne</tspan><tspan x="151" y="1130">m.</tspan><tspan x="145" y="1141.5">Beatrice (Beatrix)</tspan><tspan x="145" y="1152">princess of</tspan><tspan x="145" y="1163">England</tspan></text><path class="ulg" d="M145,1110.5H211M145,1121.5H211"/><use href="#ra" x="218.5" y="1130" class="arr"/><text class="blu"><tspan x="229" y="1128">to</tspan><tspan x="229" y="1138.5">Messier,</tspan><tspan x="229" y="1149">Marcotte line</tspan></text></g>
<g id="n-edward-stradling-gwenllian"><text><tspan x="485" y="913">Edward</tspan><tspan x="483.5" y="924">Stradling</tspan><tspan x="487" y="935">m.</tspan><tspan x="483.5" y="946">Gwenllian</tspan><tspan x="483.5" y="957">Berkerolles</tspan></text></g>
<g id="n-william-stradling"><text><tspan x="555" y="923">Sir William</tspan><tspan x="555" y="934">Stradling</tspan><tspan x="558.5" y="945">m.</tspan><tspan x="555" y="956">Isabel</tspan><tspan x="555" y="967">St. Barbe</tspan></text></g>
<g id="n-john-stradling-1435"><text><tspan x="636" y="944">Sir John</tspan><tspan x="634" y="955">Stradling</tspan><tspan x="634.5" y="966">d. 1435</tspan><tspan x="639" y="977">m.  ca 1417</tspan><tspan x="634" y="988">Joan</tspan><tspan x="634" y="999">Dauntsey</tspan><tspan x="637" y="1010">3m.</tspan><tspan x="637" y="1021">John</tspan><tspan x="637" y="1032">Dewale</tspan></text></g>
<g id="n-john-dauntesey"><text><tspan x="561" y="1002.5">Sir John</tspan><tspan x="561" y="1013.5">Dauntesey</tspan></text></g>
<g id="n-edmund-stradling"><text><tspan x="698.5" y="963">Edmund</tspan><tspan x="697" y="974">Stradling</tspan><tspan x="697" y="985">1429-1461</tspan><tspan x="702" y="994">m.</tspan><tspan x="700" y="1004">Elizabeth</tspan><tspan x="700" y="1015">Arundell</tspan></text></g>
<g id="n-john-stradling-1450"><text><tspan x="756" y="974">John</tspan><tspan x="754" y="985">Stradling</tspan><tspan x="755" y="996.5">1450-1471</tspan><tspan x="761" y="1007">m.</tspan><tspan x="757.5" y="1018">Alice</tspan><tspan x="757.5" y="1029">Langford</tspan><tspan x="757.5" y="1040">1440-1519</tspan></text></g>
<g id="n-john-danvers"><rect class="box" x="813.5" y="914" width="86" height="82.5"/><text><tspan x="818.5" y="927">Sir John Danvers</tspan><tspan x="818.5" y="938">Sheriff of</tspan><tspan x="818.5" y="949">Northamptonshire</tspan><tspan x="820.5" y="960">1452-1514</tspan><tspan x="825" y="971">m. 13 Dec 1487</tspan><tspan x="818.5" y="982">Anne Stradling</tspan><tspan x="818.5" y="993">1469-1539</tspan></text><use href="#ra" x="900" y="959" class="arr"/><text class="blu"><tspan x="905" y="937">to</tspan><tspan x="905" y="948">Phaneuf,</tspan><tspan x="905" y="959">Messier,</tspan><tspan x="905" y="970">Marcotte</tspan><tspan x="905" y="981">line</tspan></text></g>
<g id="n-edward-stradling-son"><text><tspan x="823.5" y="1019">Edward</tspan><tspan x="823.5" y="1030">Stradling</tspan></text></g>
<g id="n-edward-langford"><use href="#la" x="685" y="1139.5" class="arr"/><text><tspan x="690.5" y="1094">Edward</tspan><tspan x="690.5" y="1105">Langford</tspan><tspan x="690.5" y="1116">1416-1474</tspan><tspan x="694" y="1127">m.</tspan><tspan x="690.5" y="1138">Sancha</tspan><tspan x="690.5" y="1149">Blount</tspan><tspan x="690.5" y="1160">1416-1450</tspan></text><path class="ul" d="M690,1140H722M690,1151H720"/></g>
<g id="n-john-wynn-ap-maredudd"><rect class="gsq" x="934.5" y="691" width="3.5" height="3.5"/><text><tspan x="900" y="687">JohnWynn</tspan><tspan x="900" y="696.5">ap</tspan><tspan x="900" y="707">Maredudd</tspan><tspan x="904" y="718">m.</tspan><tspan x="900" y="729">Ellen</tspan><tspan x="900" y="740">Lloyd</tspan><tspan x="900" y="751">ferch</tspan><tspan x="900" y="760">Morris</tspan><tspan x="900" y="768.5">ap John</tspan><tspan x="900.5" y="779">1505-1572</tspan></text></g>
<g id="n-robert-wynn"><rect class="box" x="976" y="692.5" width="53" height="78.5"/><rect class="gsq" x="1010" y="694" width="3.5" height="3.5"/><text><tspan x="978.5" y="703.5">Robert</tspan><tspan x="978.5" y="713">Wynn</tspan><tspan x="978.5" y="722.5">ap John</tspan><tspan x="978.5" y="733">1520-1598</tspan><tspan x="982.5" y="746">m.</tspan><tspan x="980.5" y="756.5">Dorothy</tspan><tspan x="980.5" y="768">Griffith</tspan></text><text class="mp" x="1005.5" y="713">M.P.</text><use href="#ra" x="1020.5" y="743.5" class="arr"/><text class="blu"><tspan x="1038" y="713">to</tspan><tspan x="1038" y="724">Reece,</tspan><tspan x="1038" y="735">Gibson,</tspan><tspan x="1038" y="746">Baggett</tspan><tspan x="1038" y="757">line</tspan></text></g>
<g id="n-morris-wynn"><rect class="gsq" x="993.5" y="780.5" width="3.5" height="3.5"/><text><tspan x="964" y="789">Morris</tspan><tspan x="964" y="800">Wynn</tspan><tspan x="964" y="810">ap John</tspan><tspan x="962.5" y="823">ca1526-1580</tspan><tspan x="969" y="836">m. 1551</tspan><tspan x="965" y="847">Jane</tspan><tspan x="965" y="858">(Sian)</tspan><tspan x="965" y="869">Bulkeley</tspan></text><text class="mp" x="992.5" y="800">M.P.</text></g>
<g id="n-john-wynn-baronet"><text><tspan x="1022.5" y="792.5">Sir</tspan><tspan x="1022.5" y="803.5">John Wynn,</tspan><tspan x="1022.5" y="814.5">1st Baronet</tspan><tspan x="1022.5" y="825.5">1553-1627</tspan><tspan x="1025" y="836.5">m.</tspan><tspan x="1022.5" y="847.5">Sidney</tspan><tspan x="1022.5" y="858.5">Gerrard</tspan></text></g>
<g id="n-katherine-griffith"><text><tspan x="879.5" y="802">(Catherine)</tspan><tspan x="882.5" y="813">Katherine</tspan><tspan x="882.5" y="824">Griffith</tspan><tspan x="884.5" y="835">b. 1504</tspan><tspan x="884.5" y="846">m.</tspan><tspan x="882.5" y="857">Richard</tspan><tspan x="882.5" y="868">Bulkeley</tspan></text></g>
<g id="source"><text class="ft"><tspan x="852.5" y="1158.5">Source:</tspan><tspan x="852.5" y="1185.5">E. Driant ("Burke's Extinct &amp; Dormant Baroneties" 1977)</tspan><tspan x="859.5" y="1209.5">https://historyofparliamentonline.org/</tspan></text><rect class="gsq" x="854" y="1202.5" width="3" height="3"/></g>
</svg>
